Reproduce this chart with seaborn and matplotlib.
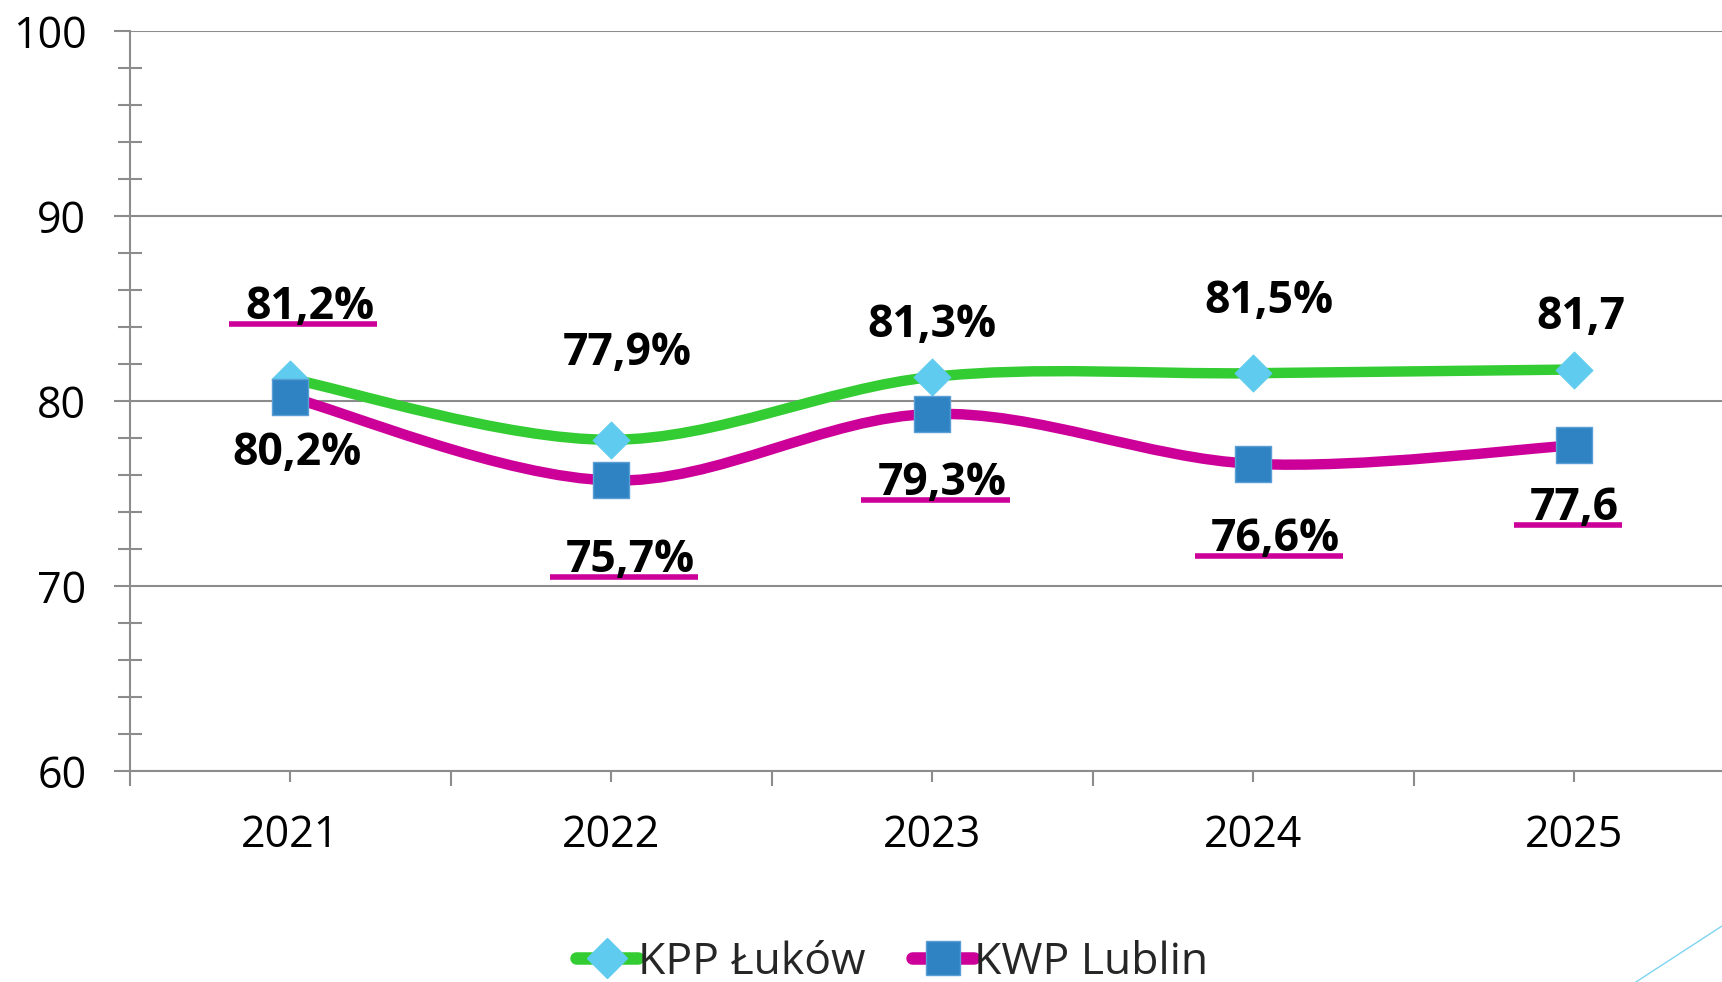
import matplotlib
matplotlib.use("Agg")
import matplotlib.pyplot as plt
from matplotlib.path import Path
from matplotlib.patches import PathPatch
from matplotlib.lines import Line2D
import seaborn as sns
import numpy as np
import pandas as pd

# values
years = ["2021", "2022", "2023", "2024", "2025"]
kpp_lukow = [81.2, 77.9, 81.3, 81.5, 81.7]
kwp_lublin = [80.2, 75.7, 79.3, 76.6, 77.6]
pct_sign = ["%", "%", "%", "%", ""]

# where the value boxes sit relative to their points (data units)
kpp_dx = [0.06, 0.05, 0.0, 0.05, 0.02]
kpp_dy = [3.86, 4.66, 2.76, 3.86, 2.81]
kwp_dx = [0.02, 0.06, 0.03, 0.07, 0.0]
kwp_dy = [-3.04, -4.34, -3.74, -4.09, -3.44]
kpp_uline = [True, False, False, False, False]
kwp_uline = [False, True, True, True, True]

GREEN = "#33CC33"
MAGENTA = "#CC0099"
DIAMOND = "#5ECBEF"
SQUARE = "#2F83C3"
GRAY = "#8C8C8C"

sns.set_theme(style="white")
plt.rcParams["font.family"] = ["Open Sans", "DejaVu Sans"]

x = np.arange(len(years))
df = pd.DataFrame({"x": np.concatenate([x, x]),
                   "val": kpp_lukow + kwp_lublin,
                   "seria": ["KPP Łuków"] * len(x) + ["KWP Lublin"] * len(x)})

fig = plt.figure(figsize=(17.22, 9.82), dpi=100)
ax = fig.add_axes([0.0755, 0.215, 1 - 0.0755, 0.9684 - 0.215])


def smooth_path(xs, ys):
    # excel-like smoothed line: cubic bezier through every point
    pts = np.column_stack([xs, ys]).astype(float)
    n = len(pts)
    verts = [pts[0]]
    codes = [Path.MOVETO]
    for i in range(n - 1):
        p0 = pts[max(i - 1, 0)]
        p1 = pts[i]
        p2 = pts[i + 1]
        p3 = pts[min(i + 2, n - 1)]
        c1 = p1 + (p2 - p0) / 6
        c2 = p2 - (p3 - p1) / 6
        verts += [c1, c2, p2]
        codes += [Path.CURVE4] * 3
    return Path(verts, codes)


for vals, col in [(kpp_lukow, GREEN), (kwp_lublin, MAGENTA)]:
    ax.add_patch(PathPatch(smooth_path(x, vals), fill=False, edgecolor=col,
                           lw=7.5, capstyle="round", joinstyle="round", zorder=3))

sns.scatterplot(data=df[df.seria == "KPP Łuków"], x="x", y="val", marker="D",
                s=19 ** 2, color=DIAMOND, edgecolor=DIAMOND, linewidth=0.5,
                zorder=4, ax=ax, legend=False)
sns.scatterplot(data=df[df.seria == "KWP Lublin"], x="x", y="val", marker="s",
                s=26 ** 2, color=SQUARE, edgecolor="#5A9ED6", linewidth=1,
                zorder=5, ax=ax, legend=False)

ax.set_xlim(-0.5, 4.461)
ax.set_ylim(60, 100)
ax.set_xlabel("")
ax.set_ylabel("")

ax.set_yticks(np.arange(60, 101, 10))
ax.set_yticks(np.arange(60, 101, 2), minor=True)
ax.set_xticks(x)
ax.set_xticklabels(years)
ax.set_xticks(np.arange(-0.5, 4.5, 1), minor=True)

ax.tick_params(axis="y", which="major", direction="out", length=11.5, width=1.5,
               color=GRAY, pad=20, labelsize=31, left=True)
ax.tick_params(axis="y", which="minor", direction="inout", length=17, width=1.5,
               color=GRAY, left=True)
ax.tick_params(axis="x", which="major", direction="out", length=8, width=1.5,
               color=GRAY, pad=23, labelsize=31, bottom=True)
ax.tick_params(axis="x", which="minor", direction="out", length=11, width=1.5,
               color=GRAY, bottom=True)
for lab in ax.get_yticklabels() + ax.get_xticklabels():
    lab.set_color("black")

ax.yaxis.grid(True, which="major", color=GRAY, lw=1.5)
ax.xaxis.grid(False)
ax.set_axisbelow(True)
for side in ["top", "right"]:
    ax.spines[side].set_visible(False)
for side in ["left", "bottom"]:
    ax.spines[side].set_color(GRAY)
    ax.spines[side].set_linewidth(1.5)

# value labels
texts = []
for vals, dxs, dys, ul in [(kpp_lukow, kpp_dx, kpp_dy, kpp_uline),
                           (kwp_lublin, kwp_dx, kwp_dy, kwp_uline)]:
    for i, v in enumerate(vals):
        s = f"{v:.1f}".replace(".", ",") + pct_sign[i]
        t = ax.text(x[i] + dxs[i], v + dys[i], s, ha="center", va="center",
                    fontsize=32, fontweight="bold", color="black", zorder=6)
        texts.append((t, ul[i], v + dys[i]))

fig.canvas.draw()
renderer = fig.canvas.get_renderer()
inv = ax.transData.inverted()
for t, ul, ty in texts:
    if not ul:
        continue
    bb = t.get_window_extent(renderer)
    (x0, _), (x1, _) = inv.transform([(bb.x0, bb.y0), (bb.x1, bb.y1)])
    ax.plot([x0 - 0.05, x1 + 0.01], [ty - 0.89, ty - 0.89], color=MAGENTA,
            lw=4, solid_capstyle="butt", zorder=5)

handles = [Line2D([], [], color=GREEN, lw=9, solid_capstyle="round", marker="D",
                  markersize=20, markerfacecolor=DIAMOND, markeredgecolor=DIAMOND),
           Line2D([], [], color=MAGENTA, lw=9, solid_capstyle="round", marker="s",
                  markersize=24, markerfacecolor=SQUARE, markeredgecolor="#5A9ED6")]
fig.legend(handles, ["KPP Łuków", "KWP Lublin"], loc="center",
           bbox_to_anchor=(0.518, 0.02), ncol=2, frameon=False, fontsize=32,
           handlelength=1.4, handletextpad=0.0, columnspacing=1.05)

fig.add_artist(Line2D([0.95, 1.0], [0.0, 0.057], transform=fig.transFigure,
                      color="#7FD4F2", lw=1))

fig.savefig("out.png", dpi=100)
